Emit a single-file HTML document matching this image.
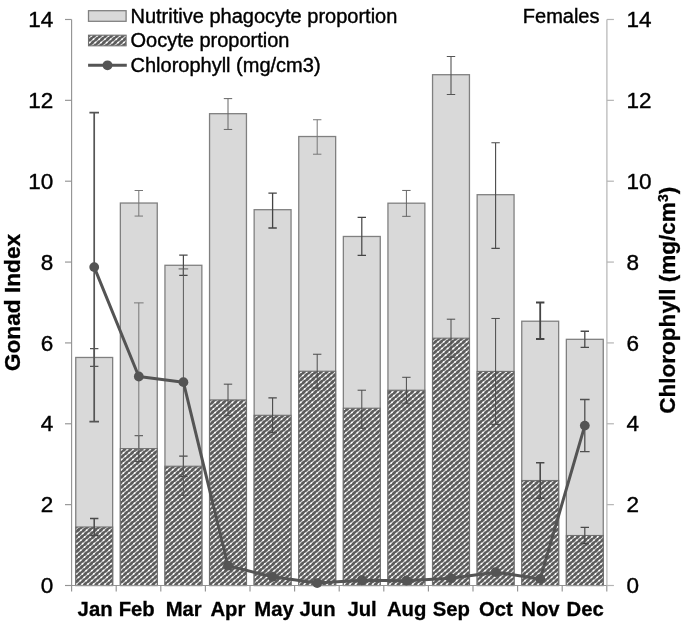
<!DOCTYPE html>
<html><head><meta charset="utf-8"><title>Gonad Index</title>
<style>
html,body{margin:0;padding:0;background:#fff;}
svg{display:block;font-family:"Liberation Sans",Arial,sans-serif;}
</style></head><body>
<svg width="685" height="623" viewBox="0 0 685 623">
<defs>
<clipPath id="oc"><rect x="88.5" y="35.2" width="37.6" height="10.6"/><rect x="75.75" y="527.00" width="36.9" height="58.50"/><rect x="120.35" y="448.64" width="36.9" height="136.86"/><rect x="164.95" y="466.23" width="36.9" height="119.27"/><rect x="209.55" y="399.93" width="36.9" height="185.57"/><rect x="254.15" y="415.29" width="36.9" height="170.21"/><rect x="298.75" y="371.22" width="36.9" height="214.28"/><rect x="343.35" y="408.21" width="36.9" height="177.29"/><rect x="387.95" y="390.22" width="36.9" height="195.28"/><rect x="432.55" y="338.19" width="36.9" height="247.31"/><rect x="477.15" y="371.42" width="36.9" height="214.08"/><rect x="521.75" y="480.50" width="36.9" height="105.00"/><rect x="566.35" y="535.49" width="36.9" height="50.01"/></clipPath>
</defs>
<rect width="685" height="623" fill="#fff"/>

<rect x="88.5" y="35.2" width="37.6" height="10.6" fill="#5c5c5c"/>
<rect x="75.75" y="357.47" width="36.9" height="228.03" fill="#d9d9d9" stroke="#808080" stroke-width="1.3"/>
<rect x="75.75" y="527.00" width="36.9" height="58.50" fill="#5c5c5c"/>
<rect x="120.35" y="203.03" width="36.9" height="382.47" fill="#d9d9d9" stroke="#808080" stroke-width="1.3"/>
<rect x="120.35" y="448.64" width="36.9" height="136.86" fill="#5c5c5c"/>
<rect x="164.95" y="265.29" width="36.9" height="320.21" fill="#d9d9d9" stroke="#808080" stroke-width="1.3"/>
<rect x="164.95" y="466.23" width="36.9" height="119.27" fill="#5c5c5c"/>
<rect x="209.55" y="113.68" width="36.9" height="471.82" fill="#d9d9d9" stroke="#808080" stroke-width="1.3"/>
<rect x="209.55" y="399.93" width="36.9" height="185.57" fill="#5c5c5c"/>
<rect x="254.15" y="209.70" width="36.9" height="375.80" fill="#d9d9d9" stroke="#808080" stroke-width="1.3"/>
<rect x="254.15" y="415.29" width="36.9" height="170.21" fill="#5c5c5c"/>
<rect x="298.75" y="136.52" width="36.9" height="448.98" fill="#d9d9d9" stroke="#808080" stroke-width="1.3"/>
<rect x="298.75" y="371.22" width="36.9" height="214.28" fill="#5c5c5c"/>
<rect x="343.35" y="236.47" width="36.9" height="349.03" fill="#d9d9d9" stroke="#808080" stroke-width="1.3"/>
<rect x="343.35" y="408.21" width="36.9" height="177.29" fill="#5c5c5c"/>
<rect x="387.95" y="203.19" width="36.9" height="382.31" fill="#d9d9d9" stroke="#808080" stroke-width="1.3"/>
<rect x="387.95" y="390.22" width="36.9" height="195.28" fill="#5c5c5c"/>
<rect x="432.55" y="74.71" width="36.9" height="510.79" fill="#d9d9d9" stroke="#808080" stroke-width="1.3"/>
<rect x="432.55" y="338.19" width="36.9" height="247.31" fill="#5c5c5c"/>
<rect x="477.15" y="194.70" width="36.9" height="390.80" fill="#d9d9d9" stroke="#808080" stroke-width="1.3"/>
<rect x="477.15" y="371.42" width="36.9" height="214.08" fill="#5c5c5c"/>
<rect x="521.75" y="321.21" width="36.9" height="264.29" fill="#d9d9d9" stroke="#808080" stroke-width="1.3"/>
<rect x="521.75" y="480.50" width="36.9" height="105.00" fill="#5c5c5c"/>
<rect x="566.35" y="339.32" width="36.9" height="246.18" fill="#d9d9d9" stroke="#808080" stroke-width="1.3"/>
<rect x="566.35" y="535.49" width="36.9" height="50.01" fill="#5c5c5c"/>
<g clip-path="url(#oc)" fill="none"><path d="M-600.00,587.50 l684.00,-600.00 M-594.30,587.50 l684.00,-600.00 M-588.60,587.50 l684.00,-600.00 M-582.90,587.50 l684.00,-600.00 M-577.20,587.50 l684.00,-600.00 M-571.50,587.50 l684.00,-600.00 M-565.80,587.50 l684.00,-600.00 M-560.10,587.50 l684.00,-600.00 M-554.40,587.50 l684.00,-600.00 M-548.70,587.50 l684.00,-600.00 M-543.00,587.50 l684.00,-600.00 M-537.30,587.50 l684.00,-600.00 M-531.60,587.50 l684.00,-600.00 M-525.90,587.50 l684.00,-600.00 M-520.20,587.50 l684.00,-600.00 M-514.50,587.50 l684.00,-600.00 M-508.80,587.50 l684.00,-600.00 M-503.10,587.50 l684.00,-600.00 M-497.40,587.50 l684.00,-600.00 M-491.70,587.50 l684.00,-600.00 M-486.00,587.50 l684.00,-600.00 M-480.30,587.50 l684.00,-600.00 M-474.60,587.50 l684.00,-600.00 M-468.90,587.50 l684.00,-600.00 M-463.20,587.50 l684.00,-600.00 M-457.50,587.50 l684.00,-600.00 M-451.80,587.50 l684.00,-600.00 M-446.10,587.50 l684.00,-600.00 M-440.40,587.50 l684.00,-600.00 M-434.70,587.50 l684.00,-600.00 M-429.00,587.50 l684.00,-600.00 M-423.30,587.50 l684.00,-600.00 M-417.60,587.50 l684.00,-600.00 M-411.90,587.50 l684.00,-600.00 M-406.20,587.50 l684.00,-600.00 M-400.50,587.50 l684.00,-600.00 M-394.80,587.50 l684.00,-600.00 M-389.10,587.50 l684.00,-600.00 M-383.40,587.50 l684.00,-600.00 M-377.70,587.50 l684.00,-600.00 M-372.00,587.50 l684.00,-600.00 M-366.30,587.50 l684.00,-600.00 M-360.60,587.50 l684.00,-600.00 M-354.90,587.50 l684.00,-600.00 M-349.20,587.50 l684.00,-600.00 M-343.50,587.50 l684.00,-600.00 M-337.80,587.50 l684.00,-600.00 M-332.10,587.50 l684.00,-600.00 M-326.40,587.50 l684.00,-600.00 M-320.70,587.50 l684.00,-600.00 M-315.00,587.50 l684.00,-600.00 M-309.30,587.50 l684.00,-600.00 M-303.60,587.50 l684.00,-600.00 M-297.90,587.50 l684.00,-600.00 M-292.20,587.50 l684.00,-600.00 M-286.50,587.50 l684.00,-600.00 M-280.80,587.50 l684.00,-600.00 M-275.10,587.50 l684.00,-600.00 M-269.40,587.50 l684.00,-600.00 M-263.70,587.50 l684.00,-600.00 M-258.00,587.50 l684.00,-600.00 M-252.30,587.50 l684.00,-600.00 M-246.60,587.50 l684.00,-600.00 M-240.90,587.50 l684.00,-600.00 M-235.20,587.50 l684.00,-600.00 M-229.50,587.50 l684.00,-600.00 M-223.80,587.50 l684.00,-600.00 M-218.10,587.50 l684.00,-600.00 M-212.40,587.50 l684.00,-600.00 M-206.70,587.50 l684.00,-600.00 M-201.00,587.50 l684.00,-600.00 M-195.30,587.50 l684.00,-600.00 M-189.60,587.50 l684.00,-600.00 M-183.90,587.50 l684.00,-600.00 M-178.20,587.50 l684.00,-600.00 M-172.50,587.50 l684.00,-600.00 M-166.80,587.50 l684.00,-600.00 M-161.10,587.50 l684.00,-600.00 M-155.40,587.50 l684.00,-600.00 M-149.70,587.50 l684.00,-600.00 M-144.00,587.50 l684.00,-600.00 M-138.30,587.50 l684.00,-600.00 M-132.60,587.50 l684.00,-600.00 M-126.90,587.50 l684.00,-600.00 M-121.20,587.50 l684.00,-600.00 M-115.50,587.50 l684.00,-600.00 M-109.80,587.50 l684.00,-600.00 M-104.10,587.50 l684.00,-600.00 M-98.40,587.50 l684.00,-600.00 M-92.70,587.50 l684.00,-600.00 M-87.00,587.50 l684.00,-600.00 M-81.30,587.50 l684.00,-600.00 M-75.60,587.50 l684.00,-600.00 M-69.90,587.50 l684.00,-600.00 M-64.20,587.50 l684.00,-600.00 M-58.50,587.50 l684.00,-600.00 M-52.80,587.50 l684.00,-600.00 M-47.10,587.50 l684.00,-600.00 M-41.40,587.50 l684.00,-600.00 M-35.70,587.50 l684.00,-600.00 M-30.00,587.50 l684.00,-600.00 M-24.30,587.50 l684.00,-600.00 M-18.60,587.50 l684.00,-600.00 M-12.90,587.50 l684.00,-600.00 M-7.20,587.50 l684.00,-600.00 M-1.50,587.50 l684.00,-600.00 M4.20,587.50 l684.00,-600.00 M9.90,587.50 l684.00,-600.00 M15.60,587.50 l684.00,-600.00 M21.30,587.50 l684.00,-600.00 M27.00,587.50 l684.00,-600.00 M32.70,587.50 l684.00,-600.00 M38.40,587.50 l684.00,-600.00 M44.10,587.50 l684.00,-600.00 M49.80,587.50 l684.00,-600.00 M55.50,587.50 l684.00,-600.00 M61.20,587.50 l684.00,-600.00 M66.90,587.50 l684.00,-600.00 M72.60,587.50 l684.00,-600.00 M78.30,587.50 l684.00,-600.00 M84.00,587.50 l684.00,-600.00 M89.70,587.50 l684.00,-600.00 M95.40,587.50 l684.00,-600.00 M101.10,587.50 l684.00,-600.00 M106.80,587.50 l684.00,-600.00 M112.50,587.50 l684.00,-600.00 M118.20,587.50 l684.00,-600.00 M123.90,587.50 l684.00,-600.00 M129.60,587.50 l684.00,-600.00 M135.30,587.50 l684.00,-600.00 M141.00,587.50 l684.00,-600.00 M146.70,587.50 l684.00,-600.00 M152.40,587.50 l684.00,-600.00 M158.10,587.50 l684.00,-600.00 M163.80,587.50 l684.00,-600.00 M169.50,587.50 l684.00,-600.00 M175.20,587.50 l684.00,-600.00 M180.90,587.50 l684.00,-600.00 M186.60,587.50 l684.00,-600.00 M192.30,587.50 l684.00,-600.00 M198.00,587.50 l684.00,-600.00 M203.70,587.50 l684.00,-600.00 M209.40,587.50 l684.00,-600.00 M215.10,587.50 l684.00,-600.00 M220.80,587.50 l684.00,-600.00 M226.50,587.50 l684.00,-600.00 M232.20,587.50 l684.00,-600.00 M237.90,587.50 l684.00,-600.00 M243.60,587.50 l684.00,-600.00 M249.30,587.50 l684.00,-600.00 M255.00,587.50 l684.00,-600.00 M260.70,587.50 l684.00,-600.00 M266.40,587.50 l684.00,-600.00 M272.10,587.50 l684.00,-600.00 M277.80,587.50 l684.00,-600.00 M283.50,587.50 l684.00,-600.00 M289.20,587.50 l684.00,-600.00 M294.90,587.50 l684.00,-600.00 M300.60,587.50 l684.00,-600.00 M306.30,587.50 l684.00,-600.00 M312.00,587.50 l684.00,-600.00 M317.70,587.50 l684.00,-600.00 M323.40,587.50 l684.00,-600.00 M329.10,587.50 l684.00,-600.00 M334.80,587.50 l684.00,-600.00 M340.50,587.50 l684.00,-600.00 M346.20,587.50 l684.00,-600.00 M351.90,587.50 l684.00,-600.00 M357.60,587.50 l684.00,-600.00 M363.30,587.50 l684.00,-600.00 M369.00,587.50 l684.00,-600.00 M374.70,587.50 l684.00,-600.00 M380.40,587.50 l684.00,-600.00 M386.10,587.50 l684.00,-600.00 M391.80,587.50 l684.00,-600.00 M397.50,587.50 l684.00,-600.00 M403.20,587.50 l684.00,-600.00 M408.90,587.50 l684.00,-600.00 M414.60,587.50 l684.00,-600.00 M420.30,587.50 l684.00,-600.00 M426.00,587.50 l684.00,-600.00 M431.70,587.50 l684.00,-600.00 M437.40,587.50 l684.00,-600.00 M443.10,587.50 l684.00,-600.00 M448.80,587.50 l684.00,-600.00 M454.50,587.50 l684.00,-600.00 M460.20,587.50 l684.00,-600.00 M465.90,587.50 l684.00,-600.00 M471.60,587.50 l684.00,-600.00 M477.30,587.50 l684.00,-600.00 M483.00,587.50 l684.00,-600.00 M488.70,587.50 l684.00,-600.00 M494.40,587.50 l684.00,-600.00 M500.10,587.50 l684.00,-600.00 M505.80,587.50 l684.00,-600.00 M511.50,587.50 l684.00,-600.00 M517.20,587.50 l684.00,-600.00 M522.90,587.50 l684.00,-600.00 M528.60,587.50 l684.00,-600.00 M534.30,587.50 l684.00,-600.00 M540.00,587.50 l684.00,-600.00 M545.70,587.50 l684.00,-600.00 M551.40,587.50 l684.00,-600.00 M557.10,587.50 l684.00,-600.00 M562.80,587.50 l684.00,-600.00 M568.50,587.50 l684.00,-600.00 M574.20,587.50 l684.00,-600.00 M579.90,587.50 l684.00,-600.00 M585.60,587.50 l684.00,-600.00 M591.30,587.50 l684.00,-600.00 M597.00,587.50 l684.00,-600.00 M602.70,587.50 l684.00,-600.00 M608.40,587.50 l684.00,-600.00 M614.10,587.50 l684.00,-600.00 M619.80,587.50 l684.00,-600.00" stroke="#d8d8d8" stroke-width="1.08"/><path d="M-600.00,587.50 l684.00,-600.00 M-594.30,587.50 l684.00,-600.00 M-588.60,587.50 l684.00,-600.00 M-582.90,587.50 l684.00,-600.00 M-577.20,587.50 l684.00,-600.00 M-571.50,587.50 l684.00,-600.00 M-565.80,587.50 l684.00,-600.00 M-560.10,587.50 l684.00,-600.00 M-554.40,587.50 l684.00,-600.00 M-548.70,587.50 l684.00,-600.00 M-543.00,587.50 l684.00,-600.00 M-537.30,587.50 l684.00,-600.00 M-531.60,587.50 l684.00,-600.00 M-525.90,587.50 l684.00,-600.00 M-520.20,587.50 l684.00,-600.00 M-514.50,587.50 l684.00,-600.00 M-508.80,587.50 l684.00,-600.00 M-503.10,587.50 l684.00,-600.00 M-497.40,587.50 l684.00,-600.00 M-491.70,587.50 l684.00,-600.00 M-486.00,587.50 l684.00,-600.00 M-480.30,587.50 l684.00,-600.00 M-474.60,587.50 l684.00,-600.00 M-468.90,587.50 l684.00,-600.00 M-463.20,587.50 l684.00,-600.00 M-457.50,587.50 l684.00,-600.00 M-451.80,587.50 l684.00,-600.00 M-446.10,587.50 l684.00,-600.00 M-440.40,587.50 l684.00,-600.00 M-434.70,587.50 l684.00,-600.00 M-429.00,587.50 l684.00,-600.00 M-423.30,587.50 l684.00,-600.00 M-417.60,587.50 l684.00,-600.00 M-411.90,587.50 l684.00,-600.00 M-406.20,587.50 l684.00,-600.00 M-400.50,587.50 l684.00,-600.00 M-394.80,587.50 l684.00,-600.00 M-389.10,587.50 l684.00,-600.00 M-383.40,587.50 l684.00,-600.00 M-377.70,587.50 l684.00,-600.00 M-372.00,587.50 l684.00,-600.00 M-366.30,587.50 l684.00,-600.00 M-360.60,587.50 l684.00,-600.00 M-354.90,587.50 l684.00,-600.00 M-349.20,587.50 l684.00,-600.00 M-343.50,587.50 l684.00,-600.00 M-337.80,587.50 l684.00,-600.00 M-332.10,587.50 l684.00,-600.00 M-326.40,587.50 l684.00,-600.00 M-320.70,587.50 l684.00,-600.00 M-315.00,587.50 l684.00,-600.00 M-309.30,587.50 l684.00,-600.00 M-303.60,587.50 l684.00,-600.00 M-297.90,587.50 l684.00,-600.00 M-292.20,587.50 l684.00,-600.00 M-286.50,587.50 l684.00,-600.00 M-280.80,587.50 l684.00,-600.00 M-275.10,587.50 l684.00,-600.00 M-269.40,587.50 l684.00,-600.00 M-263.70,587.50 l684.00,-600.00 M-258.00,587.50 l684.00,-600.00 M-252.30,587.50 l684.00,-600.00 M-246.60,587.50 l684.00,-600.00 M-240.90,587.50 l684.00,-600.00 M-235.20,587.50 l684.00,-600.00 M-229.50,587.50 l684.00,-600.00 M-223.80,587.50 l684.00,-600.00 M-218.10,587.50 l684.00,-600.00 M-212.40,587.50 l684.00,-600.00 M-206.70,587.50 l684.00,-600.00 M-201.00,587.50 l684.00,-600.00 M-195.30,587.50 l684.00,-600.00 M-189.60,587.50 l684.00,-600.00 M-183.90,587.50 l684.00,-600.00 M-178.20,587.50 l684.00,-600.00 M-172.50,587.50 l684.00,-600.00 M-166.80,587.50 l684.00,-600.00 M-161.10,587.50 l684.00,-600.00 M-155.40,587.50 l684.00,-600.00 M-149.70,587.50 l684.00,-600.00 M-144.00,587.50 l684.00,-600.00 M-138.30,587.50 l684.00,-600.00 M-132.60,587.50 l684.00,-600.00 M-126.90,587.50 l684.00,-600.00 M-121.20,587.50 l684.00,-600.00 M-115.50,587.50 l684.00,-600.00 M-109.80,587.50 l684.00,-600.00 M-104.10,587.50 l684.00,-600.00 M-98.40,587.50 l684.00,-600.00 M-92.70,587.50 l684.00,-600.00 M-87.00,587.50 l684.00,-600.00 M-81.30,587.50 l684.00,-600.00 M-75.60,587.50 l684.00,-600.00 M-69.90,587.50 l684.00,-600.00 M-64.20,587.50 l684.00,-600.00 M-58.50,587.50 l684.00,-600.00 M-52.80,587.50 l684.00,-600.00 M-47.10,587.50 l684.00,-600.00 M-41.40,587.50 l684.00,-600.00 M-35.70,587.50 l684.00,-600.00 M-30.00,587.50 l684.00,-600.00 M-24.30,587.50 l684.00,-600.00 M-18.60,587.50 l684.00,-600.00 M-12.90,587.50 l684.00,-600.00 M-7.20,587.50 l684.00,-600.00 M-1.50,587.50 l684.00,-600.00 M4.20,587.50 l684.00,-600.00 M9.90,587.50 l684.00,-600.00 M15.60,587.50 l684.00,-600.00 M21.30,587.50 l684.00,-600.00 M27.00,587.50 l684.00,-600.00 M32.70,587.50 l684.00,-600.00 M38.40,587.50 l684.00,-600.00 M44.10,587.50 l684.00,-600.00 M49.80,587.50 l684.00,-600.00 M55.50,587.50 l684.00,-600.00 M61.20,587.50 l684.00,-600.00 M66.90,587.50 l684.00,-600.00 M72.60,587.50 l684.00,-600.00 M78.30,587.50 l684.00,-600.00 M84.00,587.50 l684.00,-600.00 M89.70,587.50 l684.00,-600.00 M95.40,587.50 l684.00,-600.00 M101.10,587.50 l684.00,-600.00 M106.80,587.50 l684.00,-600.00 M112.50,587.50 l684.00,-600.00 M118.20,587.50 l684.00,-600.00 M123.90,587.50 l684.00,-600.00 M129.60,587.50 l684.00,-600.00 M135.30,587.50 l684.00,-600.00 M141.00,587.50 l684.00,-600.00 M146.70,587.50 l684.00,-600.00 M152.40,587.50 l684.00,-600.00 M158.10,587.50 l684.00,-600.00 M163.80,587.50 l684.00,-600.00 M169.50,587.50 l684.00,-600.00 M175.20,587.50 l684.00,-600.00 M180.90,587.50 l684.00,-600.00 M186.60,587.50 l684.00,-600.00 M192.30,587.50 l684.00,-600.00 M198.00,587.50 l684.00,-600.00 M203.70,587.50 l684.00,-600.00 M209.40,587.50 l684.00,-600.00 M215.10,587.50 l684.00,-600.00 M220.80,587.50 l684.00,-600.00 M226.50,587.50 l684.00,-600.00 M232.20,587.50 l684.00,-600.00 M237.90,587.50 l684.00,-600.00 M243.60,587.50 l684.00,-600.00 M249.30,587.50 l684.00,-600.00 M255.00,587.50 l684.00,-600.00 M260.70,587.50 l684.00,-600.00 M266.40,587.50 l684.00,-600.00 M272.10,587.50 l684.00,-600.00 M277.80,587.50 l684.00,-600.00 M283.50,587.50 l684.00,-600.00 M289.20,587.50 l684.00,-600.00 M294.90,587.50 l684.00,-600.00 M300.60,587.50 l684.00,-600.00 M306.30,587.50 l684.00,-600.00 M312.00,587.50 l684.00,-600.00 M317.70,587.50 l684.00,-600.00 M323.40,587.50 l684.00,-600.00 M329.10,587.50 l684.00,-600.00 M334.80,587.50 l684.00,-600.00 M340.50,587.50 l684.00,-600.00 M346.20,587.50 l684.00,-600.00 M351.90,587.50 l684.00,-600.00 M357.60,587.50 l684.00,-600.00 M363.30,587.50 l684.00,-600.00 M369.00,587.50 l684.00,-600.00 M374.70,587.50 l684.00,-600.00 M380.40,587.50 l684.00,-600.00 M386.10,587.50 l684.00,-600.00 M391.80,587.50 l684.00,-600.00 M397.50,587.50 l684.00,-600.00 M403.20,587.50 l684.00,-600.00 M408.90,587.50 l684.00,-600.00 M414.60,587.50 l684.00,-600.00 M420.30,587.50 l684.00,-600.00 M426.00,587.50 l684.00,-600.00 M431.70,587.50 l684.00,-600.00 M437.40,587.50 l684.00,-600.00 M443.10,587.50 l684.00,-600.00 M448.80,587.50 l684.00,-600.00 M454.50,587.50 l684.00,-600.00 M460.20,587.50 l684.00,-600.00 M465.90,587.50 l684.00,-600.00 M471.60,587.50 l684.00,-600.00 M477.30,587.50 l684.00,-600.00 M483.00,587.50 l684.00,-600.00 M488.70,587.50 l684.00,-600.00 M494.40,587.50 l684.00,-600.00 M500.10,587.50 l684.00,-600.00 M505.80,587.50 l684.00,-600.00 M511.50,587.50 l684.00,-600.00 M517.20,587.50 l684.00,-600.00 M522.90,587.50 l684.00,-600.00 M528.60,587.50 l684.00,-600.00 M534.30,587.50 l684.00,-600.00 M540.00,587.50 l684.00,-600.00 M545.70,587.50 l684.00,-600.00 M551.40,587.50 l684.00,-600.00 M557.10,587.50 l684.00,-600.00 M562.80,587.50 l684.00,-600.00 M568.50,587.50 l684.00,-600.00 M574.20,587.50 l684.00,-600.00 M579.90,587.50 l684.00,-600.00 M585.60,587.50 l684.00,-600.00 M591.30,587.50 l684.00,-600.00 M597.00,587.50 l684.00,-600.00 M602.70,587.50 l684.00,-600.00 M608.40,587.50 l684.00,-600.00 M614.10,587.50 l684.00,-600.00 M619.80,587.50 l684.00,-600.00" stroke="#ffffff" stroke-width="1.6" stroke-linecap="round" stroke-dasharray="0.5 4.6"/></g>
<rect x="75.75" y="527.00" width="36.9" height="58.50" fill="none" stroke="#707070" stroke-width="1.1"/>
<rect x="120.35" y="448.64" width="36.9" height="136.86" fill="none" stroke="#707070" stroke-width="1.1"/>
<rect x="164.95" y="466.23" width="36.9" height="119.27" fill="none" stroke="#707070" stroke-width="1.1"/>
<rect x="209.55" y="399.93" width="36.9" height="185.57" fill="none" stroke="#707070" stroke-width="1.1"/>
<rect x="254.15" y="415.29" width="36.9" height="170.21" fill="none" stroke="#707070" stroke-width="1.1"/>
<rect x="298.75" y="371.22" width="36.9" height="214.28" fill="none" stroke="#707070" stroke-width="1.1"/>
<rect x="343.35" y="408.21" width="36.9" height="177.29" fill="none" stroke="#707070" stroke-width="1.1"/>
<rect x="387.95" y="390.22" width="36.9" height="195.28" fill="none" stroke="#707070" stroke-width="1.1"/>
<rect x="432.55" y="338.19" width="36.9" height="247.31" fill="none" stroke="#707070" stroke-width="1.1"/>
<rect x="477.15" y="371.42" width="36.9" height="214.08" fill="none" stroke="#707070" stroke-width="1.1"/>
<rect x="521.75" y="480.50" width="36.9" height="105.00" fill="none" stroke="#707070" stroke-width="1.1"/>
<rect x="566.35" y="535.49" width="36.9" height="50.01" fill="none" stroke="#707070" stroke-width="1.1"/>
<g stroke="#949494" stroke-width="1.15" fill="none">
<path d="M71.6,19.48 V585.5 H606.80"/>
<path d="M65.0,585.50 H71.6"/>
<path d="M65.0,504.64 H71.6"/>
<path d="M65.0,423.78 H71.6"/>
<path d="M65.0,342.92 H71.6"/>
<path d="M65.0,262.06 H71.6"/>
<path d="M65.0,181.20 H71.6"/>
<path d="M65.0,100.34 H71.6"/>
<path d="M65.0,19.48 H71.6"/>
<path d="M71.60,585.5 V591.5"/>
<path d="M116.20,585.5 V591.5"/>
<path d="M160.80,585.5 V591.5"/>
<path d="M205.40,585.5 V591.5"/>
<path d="M250.00,585.5 V591.5"/>
<path d="M294.60,585.5 V591.5"/>
<path d="M339.20,585.5 V591.5"/>
<path d="M383.80,585.5 V591.5"/>
<path d="M428.40,585.5 V591.5"/>
<path d="M473.00,585.5 V591.5"/>
<path d="M517.60,585.5 V591.5"/>
<path d="M562.20,585.5 V591.5"/>
<path d="M606.80,585.5 V591.5"/>
</g>
<g stroke="#b4b4b4" stroke-width="1.2" fill="none">
<path d="M606.9,19.48 V585.5"/>
<path d="M606.9,585.50 H613.9"/>
<path d="M606.9,504.64 H613.9"/>
<path d="M606.9,423.78 H613.9"/>
<path d="M606.9,342.92 H613.9"/>
<path d="M606.9,262.06 H613.9"/>
<path d="M606.9,181.20 H613.9"/>
<path d="M606.9,100.34 H613.9"/>
<path d="M606.9,19.48 H613.9"/>
</g>
<path d="M94.20,348.58 V366.37 M90.00,348.58 H98.40 M90.00,366.37 H98.40" stroke="#555" stroke-width="1.1" fill="none"/>
<path d="M94.20,518.51 V535.49 M90.00,518.51 H98.40 M90.00,535.49 H98.40" stroke="#4a4a4a" stroke-width="1.5" fill="none"/>
<path d="M138.80,190.50 V216.07 M134.60,190.50 H143.00 M134.60,216.07 H143.00" stroke="#777" stroke-width="1.0" fill="none"/>
<path d="M138.80,435.71 V461.58 M134.60,435.71 H143.00 M134.60,461.58 H143.00" stroke="#4a4a4a" stroke-width="1.0" fill="none"/>
<path d="M183.40,255.19 V275.40 M179.20,255.19 H187.60 M179.20,275.40 H187.60" stroke="#4a4a4a" stroke-width="1.2" fill="none"/>
<path d="M183.40,456.12 V476.34 M179.20,456.12 H187.60 M179.20,476.34 H187.60" stroke="#4a4a4a" stroke-width="1.1" fill="none"/>
<path d="M228.00,98.61 V129.45 M223.80,98.61 H232.20 M223.80,129.45 H232.20" stroke="#666" stroke-width="1.0" fill="none"/>
<path d="M228.00,384.16 V415.69 M223.80,384.16 H232.20 M223.80,415.69 H232.20" stroke="#4a4a4a" stroke-width="1.0" fill="none"/>
<path d="M272.60,193.22 V227.99 M268.40,193.22 H276.80 M268.40,227.99 H276.80" stroke="#444" stroke-width="1.3" fill="none"/>
<path d="M272.60,397.90 V432.67 M268.40,397.90 H276.80 M268.40,432.67 H276.80" stroke="#4a4a4a" stroke-width="1.1" fill="none"/>
<path d="M317.20,119.74 V154.21 M313.00,119.74 H321.40 M313.00,154.21 H321.40" stroke="#777" stroke-width="1.0" fill="none"/>
<path d="M317.20,354.24 V388.20 M313.00,354.24 H321.40 M313.00,388.20 H321.40" stroke="#4a4a4a" stroke-width="1.0" fill="none"/>
<path d="M361.80,217.47 V255.47 M357.60,217.47 H366.00 M357.60,255.47 H366.00" stroke="#444" stroke-width="1.2" fill="none"/>
<path d="M361.80,390.21 V428.22 M357.60,390.21 H366.00 M357.60,428.22 H366.00" stroke="#4a4a4a" stroke-width="1.0" fill="none"/>
<path d="M406.40,190.45 V216.33 M402.20,190.45 H410.60 M402.20,216.33 H410.60" stroke="#666" stroke-width="1.0" fill="none"/>
<path d="M406.40,377.29 V403.16 M402.20,377.29 H410.60 M402.20,403.16 H410.60" stroke="#4a4a4a" stroke-width="1.0" fill="none"/>
<path d="M451.00,56.51 V94.51 M446.80,56.51 H455.20 M446.80,94.51 H455.20" stroke="#555" stroke-width="1.1" fill="none"/>
<path d="M451.00,319.19 V357.19 M446.80,319.19 H455.20 M446.80,357.19 H455.20" stroke="#4a4a4a" stroke-width="1.0" fill="none"/>
<path d="M495.60,142.74 V248.36 M491.40,142.74 H499.80 M491.40,248.36 H499.80" stroke="#4a4a4a" stroke-width="1.1" fill="none"/>
<path d="M495.60,318.46 V424.39 M491.40,318.46 H499.80 M491.40,424.39 H499.80" stroke="#4a4a4a" stroke-width="1.0" fill="none"/>
<path d="M540.20,302.52 V339.00 M536.00,302.52 H544.40 M536.00,339.00 H544.40" stroke="#444" stroke-width="1.8" fill="none"/>
<path d="M540.20,462.71 V498.29 M536.00,462.71 H544.40 M536.00,498.29 H544.40" stroke="#4a4a4a" stroke-width="1.6" fill="none"/>
<path d="M584.80,331.24 V347.41 M580.60,331.24 H589.00 M580.60,347.41 H589.00" stroke="#4a4a4a" stroke-width="1.3" fill="none"/>
<path d="M584.80,527.40 V543.57 M580.60,527.40 H589.00 M580.60,543.57 H589.00" stroke="#4a4a4a" stroke-width="1.2" fill="none"/>
<path d="M94.20,112.67 V421.56 M89.40,112.67 H99.00 M89.40,421.56 H99.00" stroke="#555" stroke-width="1.7" fill="none"/>
<path d="M138.80,302.89 V450.06 M134.00,302.89 H143.60 M134.00,450.06 H143.60" stroke="#777" stroke-width="1.0" fill="none"/>
<path d="M183.40,268.93 V495.34 M178.60,268.93 H188.20 M178.60,495.34 H188.20" stroke="#5a5a5a" stroke-width="1.0" fill="none"/>
<path d="M584.80,399.52 V451.68 M580.00,399.52 H589.60 M580.00,451.68 H589.60" stroke="#505050" stroke-width="1.3" fill="none"/>
<polyline points="94.20,267.11 138.80,376.48 183.40,382.14 228.00,565.69 272.60,576.81 317.20,583.07 361.80,580.24 406.40,580.65 451.00,578.22 495.60,572.16 540.20,578.91 584.80,425.60" fill="none" stroke="#545454" stroke-width="3" stroke-linejoin="round"/>
<circle cx="94.20" cy="267.11" r="4.9" fill="#545454"/>
<circle cx="138.80" cy="376.48" r="4.9" fill="#545454"/>
<circle cx="183.40" cy="382.14" r="4.9" fill="#545454"/>
<circle cx="228.00" cy="565.69" r="4.9" fill="#545454"/>
<circle cx="272.60" cy="576.81" r="4.9" fill="#545454"/>
<circle cx="317.20" cy="583.07" r="4.9" fill="#545454"/>
<circle cx="361.80" cy="580.24" r="4.9" fill="#545454"/>
<circle cx="406.40" cy="580.65" r="4.9" fill="#545454"/>
<circle cx="451.00" cy="578.22" r="4.9" fill="#545454"/>
<circle cx="495.60" cy="572.16" r="4.9" fill="#545454"/>
<circle cx="540.20" cy="578.91" r="4.9" fill="#545454"/>
<circle cx="584.80" cy="425.60" r="4.9" fill="#545454"/>
<rect x="88.5" y="10.7" width="37.6" height="10.6" fill="#d9d9d9" stroke="#808080" stroke-width="1.3"/>
<rect x="88.5" y="35.2" width="37.6" height="10.6" fill="none" stroke="#707070" stroke-width="1.1"/>
<path d="M88.1,65.35 H126.8" stroke="#545454" stroke-width="3"/><circle cx="107.5" cy="65.35" r="4.95" fill="#545454"/>
<g font-size="20px" fill="#000" stroke="#000" stroke-width="0.4">
<text x="130.5" y="22.8">Nutritive phagocyte proportion</text>
<text x="130.5" y="47.4">Oocyte proportion</text>
<text x="130.5" y="72.1">Chlorophyll (mg/cm3)</text>
<text x="599.5" y="22.8" text-anchor="end">Females</text>
</g>
<g font-size="22.5px" fill="#000" stroke="#000" stroke-width="0.4">
<text x="53.3" y="593" text-anchor="end">0</text>
<text x="626.6" y="593">0</text>
<text x="53.3" y="512" text-anchor="end">2</text>
<text x="626.6" y="512">2</text>
<text x="53.3" y="431" text-anchor="end">4</text>
<text x="626.6" y="431">4</text>
<text x="53.3" y="351" text-anchor="end">6</text>
<text x="626.6" y="351">6</text>
<text x="53.3" y="270" text-anchor="end">8</text>
<text x="626.6" y="270">8</text>
<text x="53.3" y="189" text-anchor="end">10</text>
<text x="626.6" y="189">10</text>
<text x="53.3" y="108" text-anchor="end">12</text>
<text x="626.6" y="108">12</text>
<text x="53.3" y="27" text-anchor="end">14</text>
<text x="626.6" y="27">14</text>
</g>
<g font-size="20.3px" font-weight="bold" fill="#000" text-anchor="middle" stroke="#000" stroke-width="0.3">
<text x="95.10" y="615.7">Jan</text>
<text x="136.70" y="615.7">Feb</text>
<text x="183.70" y="615.7">Mar</text>
<text x="227.90" y="615.7">Apr</text>
<text x="274.10" y="615.7">May</text>
<text x="317.50" y="615.7">Jun</text>
<text x="362.10" y="615.7">Jul</text>
<text x="406.70" y="615.7">Aug</text>
<text x="451.30" y="615.7">Sep</text>
<text x="495.90" y="615.7">Oct</text>
<text x="540.50" y="615.7">Nov</text>
<text x="585.10" y="615.7">Dec</text>
</g>
<g font-size="22.7px" font-weight="bold" fill="#000" text-anchor="middle" stroke="#000" stroke-width="0.3">
<text transform="translate(20.2,302.5) rotate(-90)">Gonad Index</text>
<text font-size="22.55px" transform="translate(675,300.3) rotate(-90)">Chlorophyll (mg/cm<tspan font-size="14px" dy="-7.5">3</tspan><tspan dy="7.5">)</tspan></text>
</g>
</svg></body></html>
